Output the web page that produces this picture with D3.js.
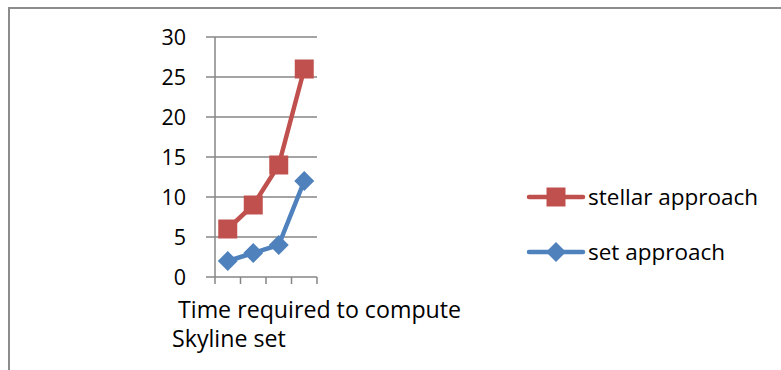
<!DOCTYPE html>
<html>
<head>
<meta charset="utf-8">
<script src="https://cdn.jsdelivr.net/npm/d3@7"></script>
<style>
  html, body { margin: 0; padding: 0; background: #fff; }
  svg { display: block; }
  text { font-family: "Open Sans", Lato, sans-serif; fill: #000; }
</style>
</head>
<body>
<svg id="chart" width="781" height="370"></svg>
<script>
const categories = ["1", "2", "3", "4"];
const stellarValues = [6, 9, 14, 26];
const setValues = [2, 3, 4, 12];
const yTicks = [0, 5, 10, 15, 20, 25, 30];
const seriesNames = ["stellar approach", "set approach"];
const axisTitleLines = [" Time required to compute", "Skyline set"];

const svg = d3.select("#chart");
const W = 781, H = 370;
const FONT = 22.5;
const YFONT = 21.5;
const TFONT = 23.2;

svg.append("rect").attr("x", 9).attr("y", 8).attr("width", W + 5).attr("height", H + 5)
  .attr("fill", "#fff").attr("stroke", "#8c8c8c").attr("stroke-width", 2);

const x = d3.scaleBand().domain(categories).range([215, 317]);
const y = d3.scaleLinear().domain([0, 30]).range([277, 37]);
const grid = "#868686";

const g = svg.append("g");
g.selectAll("line.grid").data(yTicks).join("line")
  .attr("x1", 206).attr("x2", 317)
  .attr("y1", d => y(d)).attr("y2", d => y(d))
  .attr("stroke", grid).attr("stroke-width", 1.5);

g.append("line").attr("x1", 215).attr("x2", 215).attr("y1", y(30)).attr("y2", y(0))
  .attr("stroke", grid).attr("stroke-width", 1.5);

const bounds = categories.map(c => x(c)).concat([x.range()[1]]);
g.selectAll("line.xt").data(bounds).join("line")
  .attr("x1", d => d).attr("x2", d => d).attr("y1", y(0)).attr("y2", y(0) + 7)
  .attr("stroke", grid).attr("stroke-width", 1.5);

g.selectAll("text.yl").data(yTicks).join("text")
  .attr("x", 186).attr("y", d => y(d) + 8)
  .attr("text-anchor", "end").attr("font-size", YFONT)
  .text(d => d);

const cx = d => x(d) + x.bandwidth() / 2;
const line = d3.line().x(d => cx(d.c)).y(d => y(d.v));

const red = "#C0504D", blue = "#4F81BD";
const stellar = categories.map((c, i) => ({ c, v: stellarValues[i] }));
const setS = categories.map((c, i) => ({ c, v: setValues[i] }));

function drawSeries(data, color, shape) {
  svg.append("path").datum(data).attr("d", line)
    .attr("fill", "none").attr("stroke", color).attr("stroke-width", 4.5)
    .attr("stroke-linejoin", "round");
  svg.selectAll(null).data(data).join("path")
    .attr("transform", d => `translate(${cx(d.c)},${y(d.v)})`)
    .attr("d", shape)
    .attr("fill", color);
}
const square = "M-9.5,-9.5H9.5V9.5H-9.5Z";
const diamond = "M0,-10L10,0L0,10L-10,0Z";
drawSeries(stellar, red, square);
drawSeries(setS, blue, diamond);

const legend = [
  { name: seriesNames[0], color: red, shape: square, y: 197 },
  { name: seriesNames[1], color: blue, shape: diamond, y: 252 }
];
const lg = svg.append("g");
legend.forEach(l => {
  lg.append("line").attr("x1", 529).attr("x2", 583).attr("y1", l.y).attr("y2", l.y)
    .attr("stroke", l.color).attr("stroke-width", 4.5).attr("stroke-linecap", "round");
  lg.append("path").attr("transform", `translate(556,${l.y})`).attr("d", l.shape).attr("fill", l.color);
  lg.append("text").attr("x", 588).attr("y", l.y + 8).attr("font-size", FONT).text(l.name);
});

svg.append("text").attr("x", 172).attr("y", 318).attr("font-size", TFONT)
  .attr("xml:space", "preserve").style("white-space", "pre").text(axisTitleLines[0]);
svg.append("text").attr("x", 172).attr("y", 347).attr("font-size", TFONT).text(axisTitleLines[1]);
</script>
</body>
</html>
